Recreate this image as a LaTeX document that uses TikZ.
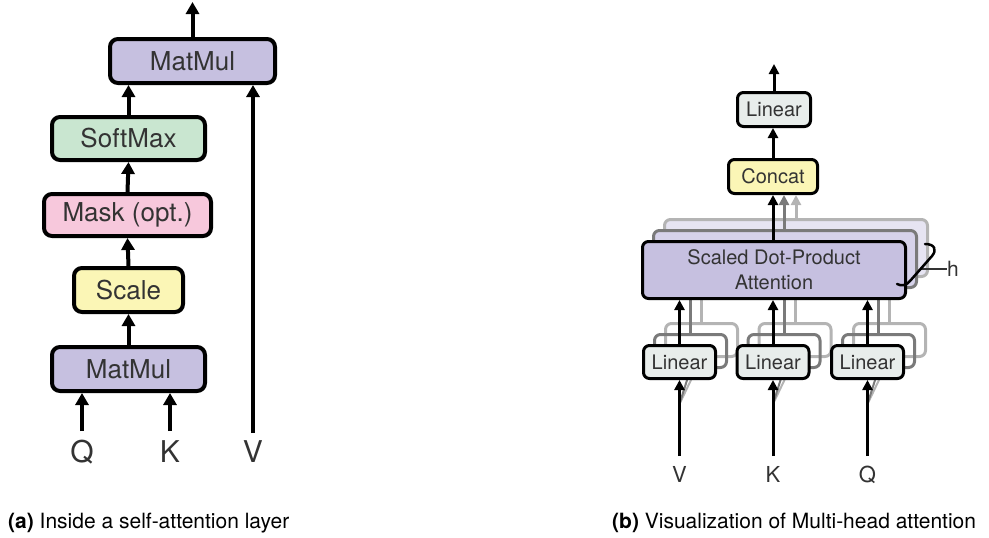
\documentclass[tikz,border=0pt]{standalone}
\usepackage{fontspec}
\setmainfont{TeX Gyre Heros}
\usetikzlibrary{arrows.meta}
\definecolor{mmfill}{HTML}{C6C0E0}
\definecolor{mmfillA}{HTML}{D6D2EA}
\definecolor{mmfillB}{HTML}{E6E4F2}
\definecolor{smfill}{HTML}{C9E6D0}
\definecolor{mkfill}{HTML}{F7C8DC}
\definecolor{scfill}{HTML}{FBF6B6}
\definecolor{lnfill}{HTML}{E8EDEB}
\definecolor{txtgray}{HTML}{333333}
\definecolor{shadeA}{HTML}{7A7A7A}
\definecolor{shadeB}{HTML}{B4B4B4}
\begin{document}
\begin{tikzpicture}[x=1pt,y=-1pt,
  lbox/.style={draw=black, line width=4pt, rounded corners=8pt, inner sep=0pt,
    text=txtgray, font=\fontsize{26}{30}\selectfont},
  rbox/.style={draw=black, line width=3pt, rounded corners=6pt, inner sep=0pt,
    text=txtgray, font=\fontsize{20}{25}\selectfont, align=center},
  shbox/.style={line width=3pt, rounded corners=6pt, inner sep=0pt},
  larr/.style={line width=4pt, -{Triangle[width=13pt,length=12pt]}},
  rarr/.style={line width=3pt, -{Triangle[width=10pt,length=10pt]}},
  shline/.style={line width=3pt},
  llbl/.style={anchor=base, inner sep=0pt, text=txtgray, font=\fontsize{30}{34}\selectfont},
  rlbl/.style={anchor=base, inner sep=0pt, text=txtgray, font=\fontsize{22}{26}\selectfont},
  captxt/.style={anchor=base west, inner sep=0pt, text=black, font=\fontsize{21}{25}\selectfont}
]
\useasboundingbox (0,0) rectangle (989,538);

% ---------------- (a) ----------------
\node[lbox, fill=mmfill, minimum width=165pt, minimum height=44pt] (mmtop) at (192.5,61) {MatMul};
\node[lbox, fill=smfill, minimum width=153pt, minimum height=43pt] (sm) at (128.5,138.5) {SoftMax};
\node[lbox, fill=mkfill, minimum width=167pt, minimum height=42pt] (mask) at (127.5,215) {Mask (opt.)};
\node[lbox, fill=scfill, minimum width=109pt, minimum height=44pt] (scale) at (128.5,290) {Scale};
\node[lbox, fill=mmfill, minimum width=153pt, minimum height=44pt] (mmbot) at (128.5,369) {MatMul};

\coordinate (outa) at (192.5,2);
\coordinate (qin) at (82,431);
\coordinate (kin) at (170,431);
\coordinate (vin) at (253,433);

\draw[larr] (mmbot.north) -- (scale.south);
\draw[larr] (scale.north) -- (mask.south);
\draw[larr] (mask.north) -- (sm.south);
\draw[larr] (sm.north) -- (sm.north |- mmtop.south);
\draw[larr] (mmtop.north) -- (outa);
\draw[larr] (qin) -- (qin |- mmbot.south);
\draw[larr] (kin) -- (kin |- mmbot.south);
\draw[larr] (vin) -- (vin |- mmtop.south);

\node[llbl] (qlab) at (82,462) {Q};
\node[llbl] (klab) at (170,462) {K};
\node[llbl] (vlab) at (253,462) {V};

% ---------------- (b) ----------------
\node[shbox, draw=shadeB, fill=mmfillB, minimum width=263pt, minimum height=57pt] (att2) at (796,248) {};
\node[shbox, draw=shadeA, fill=mmfillA, minimum width=263pt, minimum height=57pt] (att1) at (785,259) {};

\foreach \n/\x in {v/679.5,k/773,q/867.5}{
  \node[shbox, draw=shadeB, minimum width=72pt, minimum height=33pt] (\n lin2) at (\x+22,340) {};
  \node[shbox, draw=shadeA, minimum width=72pt, minimum height=33pt] (\n lin1) at (\x+11,351) {};
  \coordinate (\n split) at (\x,404);
  \draw[shline, draw=shadeB] (\n lin2.north) -- (\n lin2.north |- att2.south);
  \draw[shline, draw=shadeA] (\n lin1.north) -- (\n lin1.north |- att1.south);
  \draw[line width=2pt, draw=shadeB] (\n split) -- (\n lin2.south);
  \draw[line width=2pt, draw=shadeA] (\n split) -- (\n lin1.south);
}

\node[rbox, fill=lnfill, minimum width=73pt, minimum height=34pt] (lintop) at (774,109.5) {Linear};
\node[rbox, fill=scfill, minimum width=89pt, minimum height=34pt] (concat) at (773,176.5) {Concat};
\node[rbox, fill=mmfill, minimum width=263pt, minimum height=57pt] (att) at (774,270) {Scaled Dot-Product\\Attention};
\node[rbox, fill=lnfill, minimum width=72pt, minimum height=33pt] (vlin) at (679.5,362) {Linear};
\node[rbox, fill=lnfill, minimum width=72pt, minimum height=33pt] (klin) at (773,362) {Linear};
\node[rbox, fill=lnfill, minimum width=72pt, minimum height=33pt] (qlin) at (867.5,362) {Linear};

\coordinate (outb) at (773,64);
\coordinate (vinb) at (679.5,456);
\coordinate (kinb) at (773,456);
\coordinate (qinb) at (867.5,456);
\coordinate (c1) at (784,0);
\coordinate (c2) at (796,0);

\draw[rarr, draw=shadeB, fill=shadeB] (c2 |- att2.north) -- (c2 |- concat.south);
\draw[rarr, draw=shadeA, fill=shadeA] (c1 |- att1.north) -- (c1 |- concat.south);
\draw[rarr] (att.north -| concat.south) -- (concat.south);
\draw[rarr] (concat.north) -- (concat.north |- lintop.south);
\draw[rarr] (lintop.north) -- (lintop.north |- outb);

\draw[rarr] (vlin.north) -- (vlin.north |- att.south);
\draw[rarr] (klin.north) -- (klin.north |- att.south);
\draw[rarr] (qlin.north) -- (qlin.north |- att.south);
\draw[rarr] (vinb) -- (vlin.south);
\draw[rarr] (kinb) -- (klin.south);
\draw[rarr] (qinb) -- (qlin.south);

\node[rlbl] (vlabb) at (679.5,482) {V};
\node[rlbl] (klabb) at (773,482) {K};
\node[rlbl] (qlabb) at (867.5,482) {Q};

\node[anchor=west, inner sep=0pt, text=txtgray, font=\fontsize{21}{25}\selectfont] (hlab) at (947,269) {h};
\coordinate (hmid) at (921,269);
\draw[line width=2pt, draw=txtgray] (hmid) -- (hlab.west);
\draw[line width=2.5pt, line cap=round] (925,244) .. controls (935,244) and (937,250) .. (932,256)
   -- (910,281) .. controls (906,286) and (901,286) .. (897,284);

\node[captxt] (capa) at (8,528) {\textbf{(a)} Inside a self-attention layer};
\node[captxt] (capb) at (612,528) {\textbf{(b)} Visualization of Multi-head attention};
\end{tikzpicture}
\end{document}
